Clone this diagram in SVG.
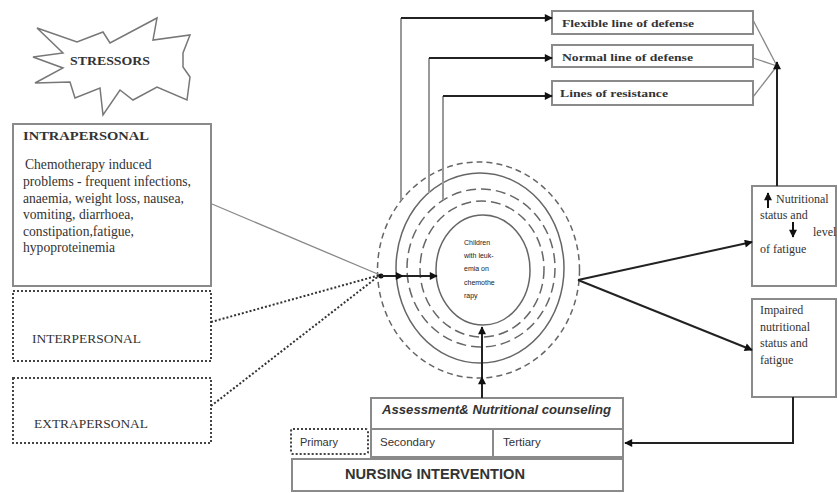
<svg xmlns="http://www.w3.org/2000/svg" width="838" height="493" viewBox="0 0 838 493">
<defs>
<marker id="ah" viewBox="0 0 10 10" refX="9" refY="5" markerWidth="9" markerHeight="8" markerUnits="userSpaceOnUse" orient="auto"><path d="M0,0 L10,5 L0,10 z" fill="#111"/></marker>
<style>
.box{fill:#fff;stroke:#8a8a8a;stroke-width:2}
.dot{fill:#fff;stroke:#444;stroke-width:2;stroke-dasharray:2 2}
.serif{font-family:"Liberation Serif","Times New Roman",serif;fill:#333}
.sans{font-family:"Liberation Sans",Arial,sans-serif;fill:#333}
.b{font-weight:bold}
.ln{fill:none;stroke:#999;stroke-width:2}
.thin{fill:none;stroke:#888;stroke-width:1.3}
.arr{fill:none;stroke:#222;stroke-width:2;marker-end:url(#ah)}
.circ{fill:none;stroke:#666;stroke-width:1.5}
</style>
</defs>
<rect width="838" height="493" fill="#fff"/>

<g id="stressors">
<polygon points="37,28 77,42 103,32 110,43 157,18 153,40 190,35 183,53 183,67 190,77 187,100 157,87 133,100 120,90 103,115 100,88 75,98 70,82 35,83 63,68 33,57 63,53" fill="#fff" stroke="#777" stroke-width="1.5"/>
<text x="70" y="65" class="serif b" font-size="12" textLength="80" lengthAdjust="spacingAndGlyphs">STRESSORS</text>
</g>

<g id="intrapersonal">
<rect x="13" y="124" width="198" height="162" class="box"/>
<text x="23" y="140" class="serif b" font-size="13" textLength="126" lengthAdjust="spacingAndGlyphs">INTRAPERSONAL</text>
<g class="serif" font-size="13.6">
<text x="25" y="169">Chemotherapy induced</text>
<text x="23" y="186" textLength="168" lengthAdjust="spacingAndGlyphs">problems - frequent infections,</text>
<text x="23" y="203">anaemia, weight loss, nausea,</text>
<text x="23" y="219">vomiting, diarrhoea,</text>
<text x="23" y="236">constipation,fatigue,</text>
<text x="23" y="252">hypoproteinemia</text>
</g>
</g>

<g id="interpersonal">
<rect x="13" y="291" width="198" height="70" class="dot"/>
<text x="32" y="343" class="serif" font-size="12" fill="#666" textLength="109" lengthAdjust="spacingAndGlyphs">INTERPERSONAL</text>
</g>

<g id="extrapersonal">
<rect x="13" y="378" width="198" height="65" class="dot"/>
<text x="34" y="428" class="serif" font-size="12" fill="#666" textLength="114" lengthAdjust="spacingAndGlyphs">EXTRAPERSONAL</text>
</g>

<g id="client">
<ellipse cx="478.5" cy="270" rx="101" ry="108" class="circ" stroke-dasharray="6 4"/>
<ellipse cx="480" cy="268" rx="84" ry="95" class="circ"/>
<ellipse cx="481" cy="268" rx="74" ry="79" class="circ" stroke-dasharray="10 5"/>
<ellipse cx="482" cy="269" rx="62" ry="68" class="circ" stroke-dasharray="10 5"/>
<ellipse cx="483" cy="270" rx="47" ry="55" class="circ"/>
<g font-family="Liberation Sans, Arial, sans-serif" font-size="7" fill="#222">
<text x="464" y="245">Children</text>
<text x="464" y="258">with leuk-</text>
<text x="464" y="271">emia on</text>
<text x="464" y="285">chemothe</text>
<text x="464" y="298">rapy</text>
</g>
</g>

<g id="flexible">
<rect x="552" y="11" width="201" height="23" class="box"/>
<text x="562" y="27" class="serif b" font-size="11" textLength="132" lengthAdjust="spacingAndGlyphs">Flexible line of defense</text>
</g>
<g id="normal">
<rect x="552" y="45" width="201" height="22" class="box"/>
<text x="562" y="61" class="serif b" font-size="11" textLength="131" lengthAdjust="spacingAndGlyphs">Normal line of defense</text>
</g>
<g id="resistance">
<rect x="552" y="81" width="201" height="24" class="box"/>
<text x="560" y="97" class="serif b" font-size="11" textLength="108" lengthAdjust="spacingAndGlyphs">Lines of resistance</text>
</g>

<g id="improved">
<rect x="752" y="186" width="84" height="100" class="box"/>
<g class="serif" font-size="12">
<text x="776" y="203">Nutritional</text>
<text x="760" y="219">status and</text>
<text x="813" y="236">level</text>
<text x="760" y="253">of fatigue</text>
</g>
<line x1="768" y1="208" x2="768" y2="193" stroke="#111" stroke-width="2" marker-end="url(#ah)"/>
<line x1="793" y1="222" x2="793" y2="237" stroke="#111" stroke-width="2" marker-end="url(#ah)"/>
</g>

<g id="impaired">
<rect x="752" y="299" width="84" height="98" class="box"/>
<g class="serif" font-size="12">
<text x="760" y="314">Impaired</text>
<text x="760" y="331">nutritional</text>
<text x="760" y="347">status and</text>
<text x="760" y="364">fatigue</text>
</g>
</g>

<g id="assessment">
<rect x="371" y="398" width="252" height="31" class="box"/>
<text x="382" y="414" class="sans b" font-style="italic" font-size="12" fill="#111" textLength="229" lengthAdjust="spacingAndGlyphs">Assessment&amp; Nutritional counseling</text>
</g>
<g id="secondary">
<rect x="371" y="429" width="122" height="28" class="box"/>
<text x="380" y="446" class="sans" font-size="11.5" fill="#222">Secondary</text>
</g>
<g id="tertiary">
<rect x="493" y="429" width="130" height="28" class="box"/>
<text x="503" y="446" class="sans" font-size="11.5" fill="#222">Tertiary</text>
</g>
<g id="primary">
<rect x="291" y="429" width="77" height="25" rx="2" class="dot"/>
<text x="300" y="446" class="sans" font-size="11" fill="#888">Primary</text>
</g>
<g id="nursing">
<rect x="292" y="459" width="331" height="32" class="box"/>
<text x="345" y="479" class="sans b" font-size="15" fill="#222" textLength="180" lengthAdjust="spacingAndGlyphs">NURSING INTERVENTION</text>
</g>

<g id="connectors">
<line x1="212" y1="204" x2="380" y2="275" class="thin"/>
<line x1="211" y1="322" x2="380" y2="275" stroke="#333" stroke-width="2" stroke-dasharray="2 2"/>
<line x1="211" y1="406" x2="380" y2="275" stroke="#333" stroke-width="2" stroke-dasharray="2 2"/>
<circle cx="381" cy="276" r="2.5" fill="#111"/>
<line x1="381" y1="276" x2="403" y2="276" class="arr"/>
<line x1="403" y1="276" x2="437" y2="276" class="arr"/>

<line x1="401" y1="200" x2="401" y2="18" class="ln"/>
<line x1="401" y1="18" x2="552" y2="18" class="arr"/>
<line x1="429" y1="193" x2="429" y2="58" class="ln"/>
<line x1="429" y1="58" x2="552" y2="58" class="arr"/>
<line x1="443" y1="200" x2="443" y2="96" class="ln"/>
<line x1="443" y1="96" x2="552" y2="96" class="arr"/>

<line x1="753" y1="20" x2="777" y2="66" class="thin"/>
<line x1="753" y1="58" x2="777" y2="66" class="thin"/>
<line x1="753" y1="97" x2="777" y2="66" class="thin"/>
<line x1="777" y1="186" x2="777" y2="62" class="arr"/>

<line x1="578" y1="280" x2="752" y2="242" class="arr"/>
<line x1="578" y1="280" x2="752" y2="350" class="arr"/>

<polyline points="793,397 793,443 625,443" class="arr"/>

<line x1="482" y1="398" x2="482" y2="377" class="arr"/>
<line x1="482" y1="377" x2="482" y2="327" class="arr"/>
</g>
</svg>
